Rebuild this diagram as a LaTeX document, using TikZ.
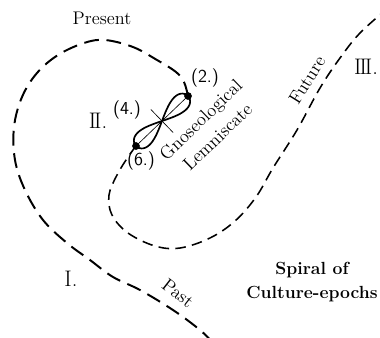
\documentclass[tikz,border=0pt]{standalone}
\usetikzlibrary{positioning}
\tikzset{
  spiral/.style={line width=1.4pt, dash pattern=on 10.5pt off 5.5pt},
  inner/.style={line width=1.1pt, dash pattern=on 7.5pt off 4.5pt},
  lemni/.style={line width=1.2pt},
  axisline/.style={line width=0.45pt},
  dot/.style={circle, fill=black, inner sep=0pt, minimum size=5.5pt},
  lab/.style={font=\fontsize{13}{17}\selectfont, inner sep=1pt},
  num/.style={font=\sffamily\fontsize{13}{15}\selectfont, inner sep=1pt},
  roman/.style={font=\fontsize{16}{18}\selectfont, inner sep=1pt},
  title/.style={font=\bfseries\fontsize{12.5}{17.5}\selectfont, align=center, inner sep=1pt}
}

\begin{document}
\begin{tikzpicture}[x=0.025cm, y=-0.025cm]
\useasboundingbox (0,0) rectangle (380,337);
\clip (0,0) rectangle (380,337);

% ---------------- Lemniscate ----------------
\coordinate (c4) at (162,121);
\node[dot] (p2) at (188,96) {};
\node[dot] (p6) at (136,146) {};
\begin{scope}[shift={(c4)}, rotate=44]
  \draw[lemni] plot[domain=0:355, samples=72, smooth cycle] ({36*cos(\x)},{8.5*sin(2*\x)});
  \draw[axisline] (0,-16) -- (0,16);
\end{scope}
\draw[axisline] (p6) -- (p2);

% ---------------- Spiral ----------------
\coordinate (pastend) at (214,344);
\coordinate (futend) at (388,8);
\draw[spiral] plot[smooth, tension=0.6] coordinates {(p2.center) (184,82) (176,72) (157,60) (133,47) (105,40) (84,43) (58,55) (37,73) (22,97) (14,127) (15,160) (25,190) (43,220) (67,243) (90,260) (113,277) (140,290) (173,310) (200,330) (pastend)};
\draw[inner] plot[smooth, tension=0.6] coordinates {(p6.center) (128,157) (117,175) (109,195) (112,215) (128,233) (155,246) (180,248) (210,238) (235,221) (256,197) (273,168) (297,130) (320,88) (340,58) (360,33) (futend)};

% ---------------- Labels ----------------
\node[lab] (present) at (102,18) {Present};
\node[lab, rotate=58] (future) at (307,80) {Future};
\node[lab, rotate=-38] (past) at (178,293) {Past};
\node[lab, rotate=44, align=center] (gnos) at (209,128) {Gnoseological\\Lemniscate};

\node[num] (n2) at (205,78) {(2.)};
\node[num] (n4) at (127,110) {(4.)};
\node[num] (n6) at (141,161) {(6.)};

\node[roman] (r1) at (71,279) {I.};
\node[roman] (r2) at (98,121) {I\kern-1.4pt I.};
\node[roman] (r3) at (366,67) {I\kern-1.4pt I\kern-1.4pt I.};

\node[title] (title) at (312,282) {Spiral of\\Culture-epochs};

\end{tikzpicture}
\end{document}
